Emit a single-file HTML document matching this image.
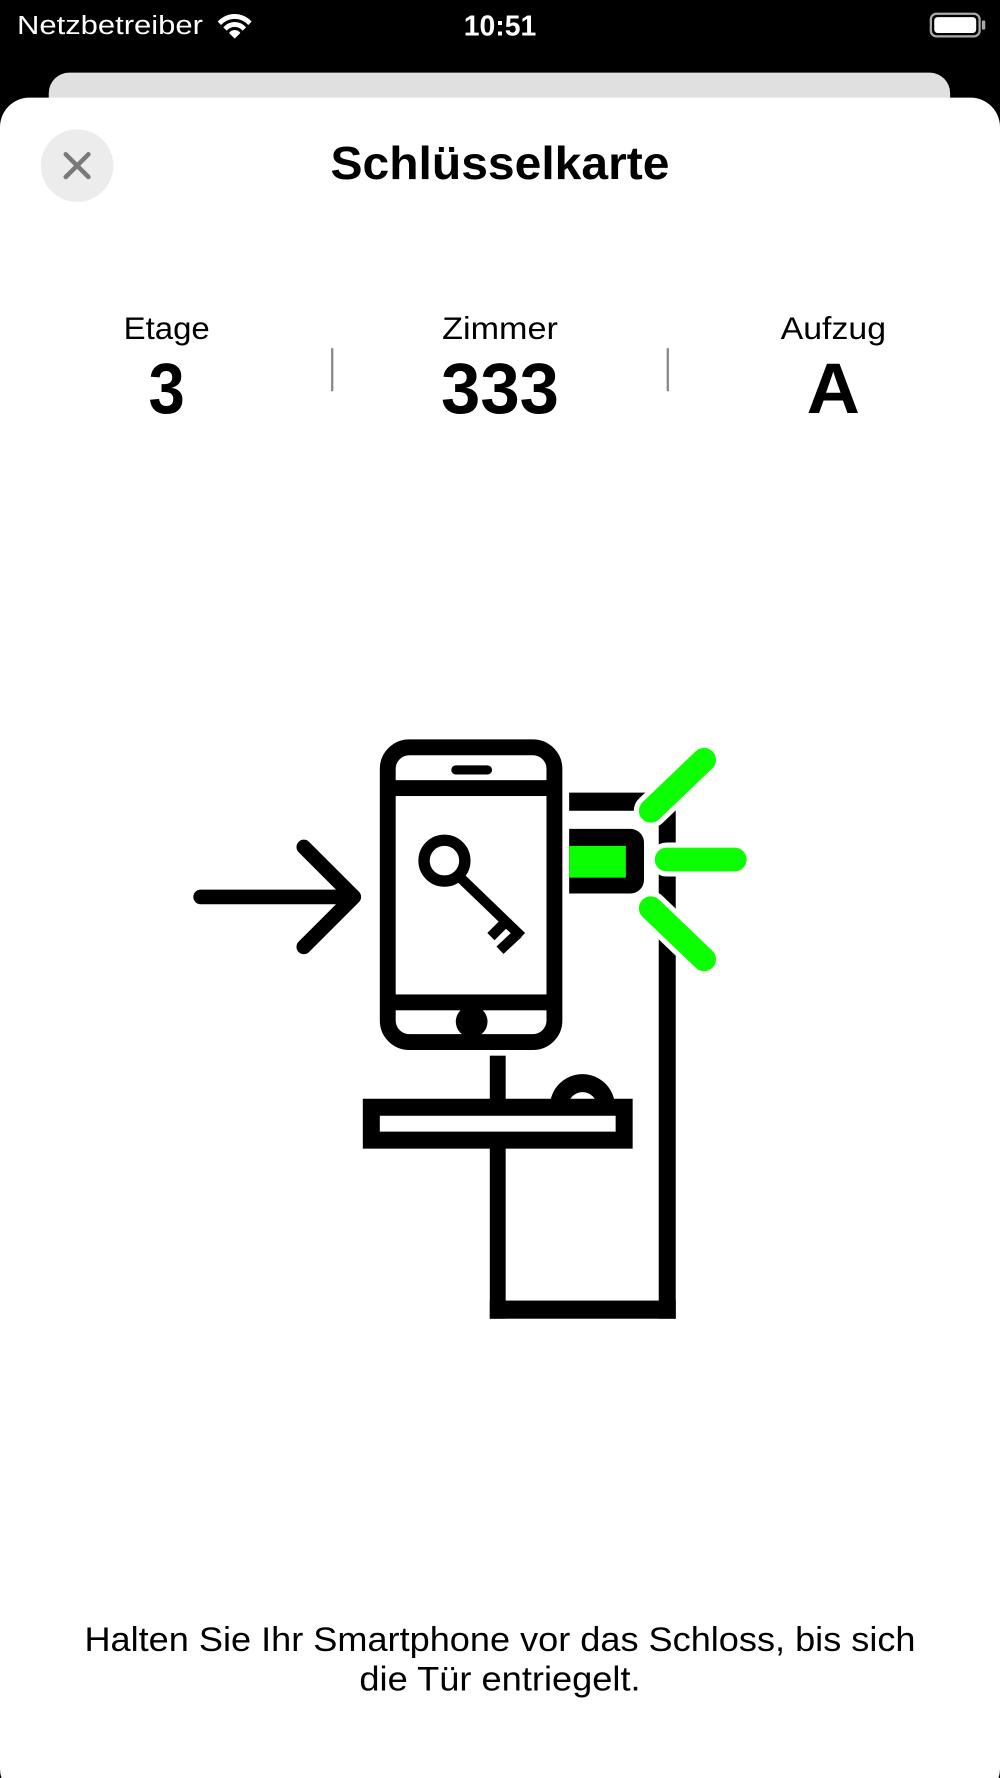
<!DOCTYPE html>
<html><head><meta charset="utf-8"><style>
html,body{margin:0;padding:0;background:#000;}
svg{display:block;}
text{font-family:"Liberation Sans",sans-serif;}
</style></head><body>
<svg width="1000" height="1778" viewBox="0 0 882 1568" xmlns="http://www.w3.org/2000/svg">
<rect x="0" y="0" width="882" height="1568" fill="#000"/>
<rect x="43" y="64" width="795" height="80" rx="18" fill="#e0e0e0"/>
<rect x="0" y="86" width="882" height="1500" rx="26" fill="#fff"/>
<text x="15" y="30" font-size="23" fill="#fff" textLength="164" lengthAdjust="spacingAndGlyphs">Netzbetreiber</text>
<g fill="#fff">
<path d="M192 19 a20 20 0 0 1 30 0 l-3 3 a16 16 0 0 0 -24 0z"/>
<path d="M197 24 a13 13 0 0 1 20 0 l-3 3 a9 9 0 0 0 -14 0z"/>
<path d="M202 29 a6 6 0 0 1 10 0 l-5 5z"/>
</g>
<text x="441" y="31" font-size="25" fill="#fff" text-anchor="middle" font-weight="bold" textLength="64" lengthAdjust="spacingAndGlyphs">10:51</text>
<rect x="821" y="12" width="43" height="20" rx="5" fill="none" stroke="#aaa" stroke-width="2"/>
<rect x="824" y="15" width="37" height="14" rx="3" fill="#fff"/>
<rect x="866" y="18" width="3" height="8" rx="1" fill="#aaa"/>

<circle cx="68" cy="146" r="32" fill="#ececec"/>
<path d="M58 136 L78 156 M78 136 L58 156" stroke="#7a7a7a" stroke-width="4" stroke-linecap="round"/>
<text x="441" y="158" font-size="41" font-weight="bold" text-anchor="middle" textLength="299" lengthAdjust="spacingAndGlyphs">Schlüsselkarte</text>

<text x="147" y="299" font-size="28" text-anchor="middle" textLength="76" lengthAdjust="spacingAndGlyphs">Etage</text>
<text x="441" y="299" font-size="28" text-anchor="middle" textLength="102" lengthAdjust="spacingAndGlyphs">Zimmer</text>
<text x="735" y="299" font-size="28" text-anchor="middle" textLength="93" lengthAdjust="spacingAndGlyphs">Aufzug</text>
<text x="147" y="364" font-size="63" font-weight="bold" text-anchor="middle" textLength="32" lengthAdjust="spacingAndGlyphs">3</text>
<text x="441" y="364" font-size="63" font-weight="bold" text-anchor="middle" textLength="104" lengthAdjust="spacingAndGlyphs">333</text>
<text x="735" y="364" font-size="63" font-weight="bold" text-anchor="middle" textLength="47" lengthAdjust="spacingAndGlyphs">A</text>
<rect x="292" y="307" width="2" height="38" fill="#888"/>
<rect x="588" y="307" width="2" height="38" fill="#888"/>

<g stroke="#000" stroke-width="13" stroke-linecap="round" stroke-linejoin="round" fill="none">
<path d="M177 791 L310 791"/>
<path d="M268 747 L312 791 L268 835"/>
</g>
<rect x="342" y="659" width="147" height="260" rx="19" fill="none" stroke="#000" stroke-width="14"/>
<rect x="342" y="688" width="147" height="14" fill="#000"/>
<rect x="342" y="877" width="147" height="14" fill="#000"/>
<rect x="398" y="675" width="36" height="8" rx="4" fill="#000"/>
<circle cx="416" cy="901" r="14" fill="#000"/>
<circle cx="392" cy="759" r="18" fill="none" stroke="#000" stroke-width="10"/>
<g stroke="#000" stroke-width="9" fill="none">
<path d="M405 773 L460 826"/>
<path d="M446 813 L433 826"/>
<path d="M457 823 L441 838"/>
</g>
<rect x="502" y="699" width="72" height="16" fill="#000"/>
<path d="M502 731 H556 a12 12 0 0 1 12 12 V776 a12 12 0 0 1 -12 12 H502z" fill="#000"/>
<rect x="502" y="746" width="50" height="28" fill="#0cff00"/>
<rect x="581" y="703" width="15" height="460" fill="#000"/>
<rect x="432" y="931" width="14" height="232" fill="#000"/>
<rect x="432" y="1147" width="164" height="16" fill="#000"/>
<path d="M485 976 a28.7 28.7 0 0 1 57.4 0 z" fill="#000"/>
<path d="M501 976 a12.8 12.8 0 0 1 25.6 0 z" fill="#fff"/>
<rect x="327.5" y="976.5" width="223" height="29" fill="#fff" stroke="#000" stroke-width="15"/>
<g stroke-linecap="round" fill="none">
<g stroke="#fff" stroke-width="30">
<path d="M574 715 L621 670"/><path d="M588 758 L648 758"/><path d="M574 801 L621 846"/>
</g>
<g stroke="#0cff00" stroke-width="21">
<path d="M574 715 L621 670"/><path d="M588 758 L648 758"/><path d="M574 801 L621 846"/>
</g>
</g>

<text x="441" y="1456" font-size="30" text-anchor="middle" textLength="733" lengthAdjust="spacingAndGlyphs">Halten Sie Ihr Smartphone vor das Schloss, bis sich</text>
<text x="441" y="1491" font-size="30" text-anchor="middle" textLength="248" lengthAdjust="spacingAndGlyphs">die Tür entriegelt.</text>
</svg>
</body></html>
